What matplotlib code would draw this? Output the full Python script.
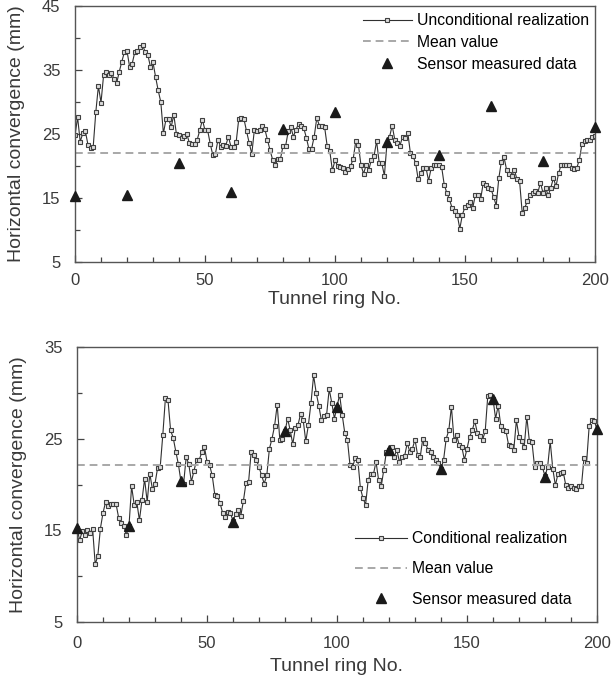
import matplotlib
matplotlib.use("Agg")
import matplotlib.pyplot as plt
import numpy as np
from matplotlib.ticker import MultipleLocator

plt.rcParams['font.family'] = ['Liberation Sans', 'DejaVu Sans']

rings = np.arange(0, 201)

# unconditional realization (top panel)
uncond = [24.8, 27.6, 23.8, 25.1, 25.4, 23.3, 22.8, 23.0, 28.4, 32.5,
          29.9, 34.2, 34.7, 34.2, 34.6, 33.6, 32.9, 34.7, 36.3, 37.8,
          38.0, 35.5, 36.0, 37.8, 37.9, 38.6, 38.9, 37.8, 37.4, 35.5,
          36.2, 33.9, 31.8, 30.0, 25.1, 27.3, 27.4, 26.1, 28.0, 25.0,
          24.8, 24.3, 24.7, 25.0, 23.6, 23.5, 23.4, 24.1, 25.6, 27.2,
          25.6, 25.6, 23.5, 21.7, 21.9, 24.1, 23.0, 23.3, 23.2, 24.6,
          23.0, 22.9, 23.8, 27.4, 27.5, 27.3, 25.4, 23.6, 21.9, 25.7,
          25.4, 25.6, 26.2, 25.8, 24.1, 22.5, 21.0, 20.1, 21.1, 21.1,
          23.1, 23.1, 25.4, 26.1, 24.6, 25.7, 26.6, 26.2, 25.9, 24.4,
          22.6, 22.7, 24.6, 27.5, 26.3, 26.2, 26.1, 23.1, 22.3, 19.3,
          20.9, 20.0, 19.9, 19.7, 19.0, 19.5, 20.0, 21.1, 23.9, 23.3,
          20.1, 18.8, 20.2, 19.4, 21.0, 21.5, 23.9, 20.5, 20.4, 18.5,
          23.6, 24.6, 26.3, 24.1, 23.6, 23.2, 24.6, 24.4, 25.2, 22.0,
          21.5, 20.5, 17.9, 18.9, 19.7, 19.7, 17.7, 19.7, 20.2, 20.1,
          20.1, 19.9, 17.1, 15.8, 14.8, 13.5, 13.0, 12.4, 10.2, 12.4,
          13.6, 13.9, 14.4, 13.5, 15.5, 15.5, 14.8, 17.3, 17.1, 16.6,
          16.4, 15.2, 13.8, 18.1, 20.7, 21.4, 19.4, 18.7, 18.4, 19.4,
          17.9, 17.6, 12.7, 13.5, 14.5, 15.5, 15.8, 16.1, 15.8, 17.4,
          15.8, 16.6, 15.4, 16.6, 18.1, 16.8, 18.9, 20.2, 20.2, 20.2,
          20.1, 19.7, 19.5, 19.7, 21.0, 23.5, 23.9, 24.1, 24.1, 24.6,
          24.7]

# conditional realization (bottom panel)
cond = [15.3, 13.9, 14.9, 14.5, 15.0, 14.7, 15.2, 11.3, 12.2, 15.2,
        16.9, 18.1, 17.7, 17.9, 17.9, 17.9, 16.4, 15.8, 15.5, 14.5,
        15.5, 19.8, 17.8, 18.1, 16.1, 18.3, 20.6, 18.1, 21.2, 19.5,
        20.1, 21.8, 21.9, 25.4, 29.4, 29.2, 25.9, 25.1, 23.6, 22.2,
        20.3, 20.1, 23.0, 22.2, 20.3, 21.5, 22.7, 22.7, 23.5, 24.1,
        22.5, 22.1, 21.0, 18.9, 18.7, 18.0, 16.9, 16.5, 17.0, 16.9,
        16.0, 16.8, 17.2, 16.6, 18.2, 20.2, 20.3, 23.6, 23.2, 22.7,
        21.9, 21.0, 20.1, 21.0, 23.9, 25.0, 26.4, 28.7, 24.9, 25.0,
        25.8, 27.2, 25.9, 24.4, 26.2, 26.5, 27.7, 27.0, 24.7, 26.5,
        28.9, 31.9, 30.0, 28.6, 27.0, 27.5, 27.6, 30.4, 28.9, 27.2,
        28.5, 29.8, 27.6, 25.6, 24.9, 22.1, 21.9, 22.9, 22.7, 19.6,
        18.5, 17.8, 20.5, 21.2, 21.1, 22.5, 20.5, 19.8, 21.6, 23.6,
        23.8, 24.1, 23.0, 23.8, 22.5, 23.0, 23.1, 24.5, 23.6, 23.9,
        24.9, 23.2, 23.0, 25.0, 24.5, 23.8, 23.6, 23.0, 22.7, 22.3,
        21.7, 22.7, 25.0, 25.9, 28.5, 24.9, 25.4, 24.3, 24.1, 22.7,
        23.9, 25.2, 25.9, 26.9, 25.6, 25.3, 24.9, 25.8, 29.7, 29.8,
        29.3, 27.2, 28.6, 26.4, 25.9, 25.8, 24.3, 24.2, 23.8, 27.0,
        25.2, 24.7, 24.1, 27.4, 24.7, 24.6, 21.9, 22.3, 22.3, 21.9,
        20.9, 21.9, 24.7, 21.7, 19.9, 21.2, 21.3, 21.4, 19.9, 19.6,
        19.8, 19.6, 19.5, 19.8, 19.8, 22.9, 22.4, 26.4, 27.0, 26.9,
        26.0]

sensor_x = [0, 20, 40, 60, 80, 100, 120, 140, 160, 180, 200]
sensor_y = [15.3, 15.5, 20.4, 15.9, 25.8, 28.5, 23.8, 21.7, 29.3, 20.8, 26.1]

mean_val = 22.1

W, H = 611, 681
fig = plt.figure(figsize=(W / 100, H / 100), dpi=100)
ax1 = fig.add_axes([75 / W, 1 - 262 / H, 520 / W, 256 / H])
ax2 = fig.add_axes([77 / W, 1 - 622 / H, 520 / W, 275 / H])

panels = [(ax1, uncond, "Unconditional realization", (5, 45), [5, 15, 25, 35, 45], 8, 2),
          (ax2, cond, "Conditional realization", (5, 35), [5, 15, 25, 35], 10, 5)]

for ax, series, name, ylim, yt, xpad, xlpad in panels:
    ax.plot(rings, series, color='#303030', lw=0.8, marker='s', ms=3.0,
            mfc='#dcdcdc', mec='#404040', mew=0.8, label=name)
    ax.axhline(mean_val, color='#a8a8a8', ls=(0, (4, 2.5)), lw=1.4, label="Mean value")
    ax.plot(sensor_x, sensor_y, ls='none', marker='^', ms=6.5, color='#1a1a1a',
            label="Sensor measured data", clip_on=False, zorder=5)
    ax.set_xlim(0, 200)
    ax.set_ylim(*ylim)
    ax.set_xticks([0, 50, 100, 150, 200])
    ax.xaxis.set_minor_locator(MultipleLocator(10))
    ax.set_yticks(yt)
    ax.yaxis.set_minor_locator(MultipleLocator(5))
    ax.tick_params(which='both', direction='in', colors='#444444', labelcolor='#3a3a3a',
                   labelsize=12, width=0.9)
    ax.tick_params(axis='y', which='major', length=5, pad=10.5)
    ax.tick_params(axis='x', which='major', length=5, pad=xpad)
    ax.tick_params(which='minor', length=3.5)
    for s in ax.spines.values():
        s.set_color('#555555')
        s.set_linewidth(1.0)
    ax.set_xlabel("Tunnel ring No.", fontsize=14, color='#3a3a3a', labelpad=xlpad)
    ax.set_ylabel("Horizontal convergence (mm)", fontsize=14, color='#3a3a3a', labelpad=12)

ax1.legend(loc='upper left', bbox_to_anchor=(363 / W, 1 - 13 / H), bbox_transform=fig.transFigure,
           frameon=False, fontsize=11.3, numpoints=1, borderpad=0, borderaxespad=0,
           handlelength=3.1, labelspacing=0.44, handletextpad=0.35)
ax2.legend(loc='upper left', bbox_to_anchor=(355 / W, 1 - 531 / H), bbox_transform=fig.transFigure,
           frameon=False, fontsize=11.3, numpoints=1, borderpad=0, borderaxespad=0,
           handlelength=3.3, labelspacing=0.98, handletextpad=0.35)

fig.savefig("out.png", dpi=100)
